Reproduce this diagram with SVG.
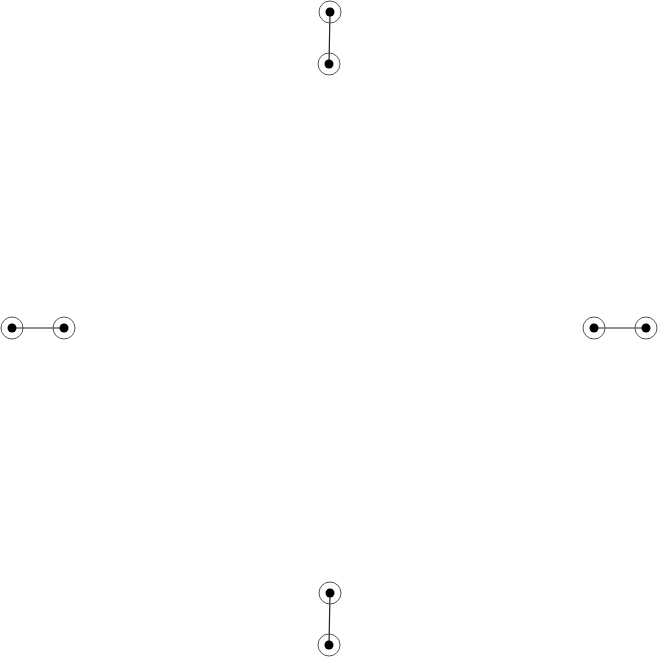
<svg xmlns="http://www.w3.org/2000/svg" width="659" height="658" viewBox="0 0 659 658">
<style>
.ring{fill:none;stroke:#555;stroke-width:1}
.dot{fill:#000}
.edge{stroke:#222;stroke-width:1.2;fill:none}
</style>
<rect width="659" height="658" fill="#fff"/>
<g id="connectors">
<line class="edge" x1="330" y1="12" x2="329" y2="64"/>
<line class="edge" x1="12" y1="328" x2="64" y2="328"/>
<line class="edge" x1="594" y1="328" x2="646" y2="328"/>
<line class="edge" x1="330" y1="593" x2="329" y2="645"/>
</g>
<g id="n1"><circle class="ring" cx="330" cy="12" r="11"/><circle class="dot" cx="330" cy="12" r="4.5"/></g>
<g id="n2"><circle class="ring" cx="329" cy="64" r="11"/><circle class="dot" cx="329" cy="64" r="4.5"/></g>
<g id="n3"><circle class="ring" cx="12" cy="328" r="11"/><circle class="dot" cx="12" cy="328" r="4.5"/></g>
<g id="n4"><circle class="ring" cx="64" cy="328" r="11"/><circle class="dot" cx="64" cy="328" r="4.5"/></g>
<g id="n5"><circle class="ring" cx="594" cy="328" r="11"/><circle class="dot" cx="594" cy="328" r="4.5"/></g>
<g id="n6"><circle class="ring" cx="646" cy="328" r="11"/><circle class="dot" cx="646" cy="328" r="4.5"/></g>
<g id="n7"><circle class="ring" cx="330" cy="593" r="11"/><circle class="dot" cx="330" cy="593" r="4.5"/></g>
<g id="n8"><circle class="ring" cx="329" cy="645" r="11"/><circle class="dot" cx="329" cy="645" r="4.5"/></g>
</svg>
